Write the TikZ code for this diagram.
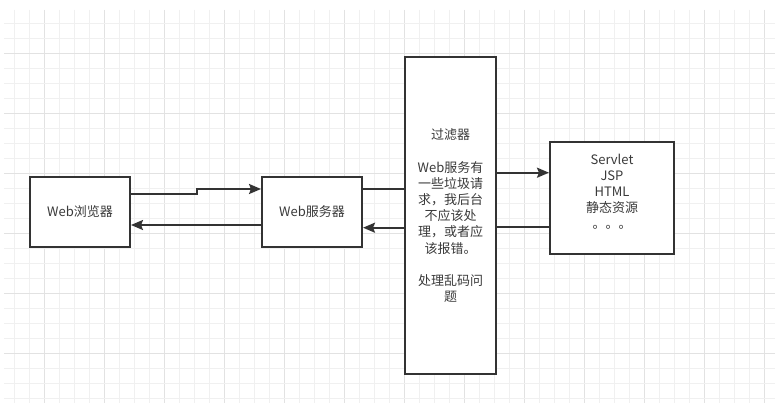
\documentclass[tikz,border=0pt]{standalone}
\usepackage{fontspec}
\setmainfont{Noto Sans CJK SC}
\usetikzlibrary{arrows.meta,calc}
\definecolor{linec}{HTML}{333333}
\definecolor{txtc}{HTML}{3A3A3A}
\definecolor{gridminor}{HTML}{F0F0F0}
\definecolor{gridmajor}{HTML}{E2E2E2}
\tikzset{
  boxnode/.style={draw=linec, line width=2pt, fill=white, rectangle, inner sep=0pt, text=txtc, font=\fontsize{13}{16.2}\selectfont, align=center},
  txtnode/.style={inner sep=0pt, text=txtc, font=\fontsize{13}{16}\selectfont, align=center},
  conn/.style={draw=linec, line width=2pt},
  arrowconn/.style={conn, -{Stealth[length=12pt,width=10pt,inset=2pt]}}
}
\begin{document}
\begin{tikzpicture}[x=1pt,y=-1pt]
\useasboundingbox (0,0) rectangle (780,412);
\fill[white] (0,0) rectangle (780,412);
\begin{scope}
\clip (4,10) rectangle (775,403);
\foreach \k in {0,...,50} {
  \pgfmathtruncatemacro{\m}{mod(\k+2,4)}
  \ifnum\m=0
    \draw[gridmajor, line width=1pt] ({14.3+15*\k},10) -- ({14.3+15*\k},403);
  \else
    \draw[gridminor, line width=1pt] ({14.3+15*\k},10) -- ({14.3+15*\k},403);
  \fi
}
\foreach \k in {0,...,25} {
  \pgfmathtruncatemacro{\m}{mod(\k+2,4)}
  \ifnum\m=0
    \draw[gridmajor, line width=1pt] (4,{23.3+15*\k}) -- (775,{23.3+15*\k});
  \else
    \draw[gridminor, line width=1pt] (4,{23.3+15*\k}) -- (775,{23.3+15*\k});
  \fi
}
\end{scope}

\node[boxnode, minimum width=100pt, minimum height=70pt] (browser) at (80,212) {Web浏览器};
\node[boxnode, minimum width=100pt, minimum height=70pt] (server) at (312,212) {Web服务器};
\node[boxnode, minimum width=91pt, minimum height=317pt] (filter) at (450.5,215.7)
  {过滤器\\[16.2pt]Web服务有\\一些垃圾请\\求，我后台\\不应该处\\理，或者应\\该报错。\\[16.2pt]处理乱码问\\题};
\node[boxnode, minimum width=124pt, minimum height=112pt] (servlet) at (612,198) {};
\node[txtnode] (servlettext) at (612,192) {Servlet\\JSP\\HTML\\静态资源\\。。。};

\draw[arrowconn] ([yshift=18pt]browser.east) -- ++(66,0) -- ++(0,-5) -- ([yshift=23pt]server.west);
\draw[arrowconn] ([yshift=-13pt]server.west) -- ([yshift=-13pt]browser.east);

\coordinate (s1) at ([yshift=23pt]server.east);
\coordinate (s2) at ([yshift=-15.7pt]server.east);
\draw[conn] (s1) -- (s1 -| filter.west);
\draw[arrowconn] (s2 -| filter.west) -- (s2);

\coordinate (v1) at ([yshift=25.3pt]servlet.west);
\coordinate (v2) at ([yshift=-28.7pt]servlet.west);
\draw[arrowconn] (v1 -| filter.east) -- (v1);
\draw[conn] (v2) -- (v2 -| filter.east);
\end{tikzpicture}
\end{document}
